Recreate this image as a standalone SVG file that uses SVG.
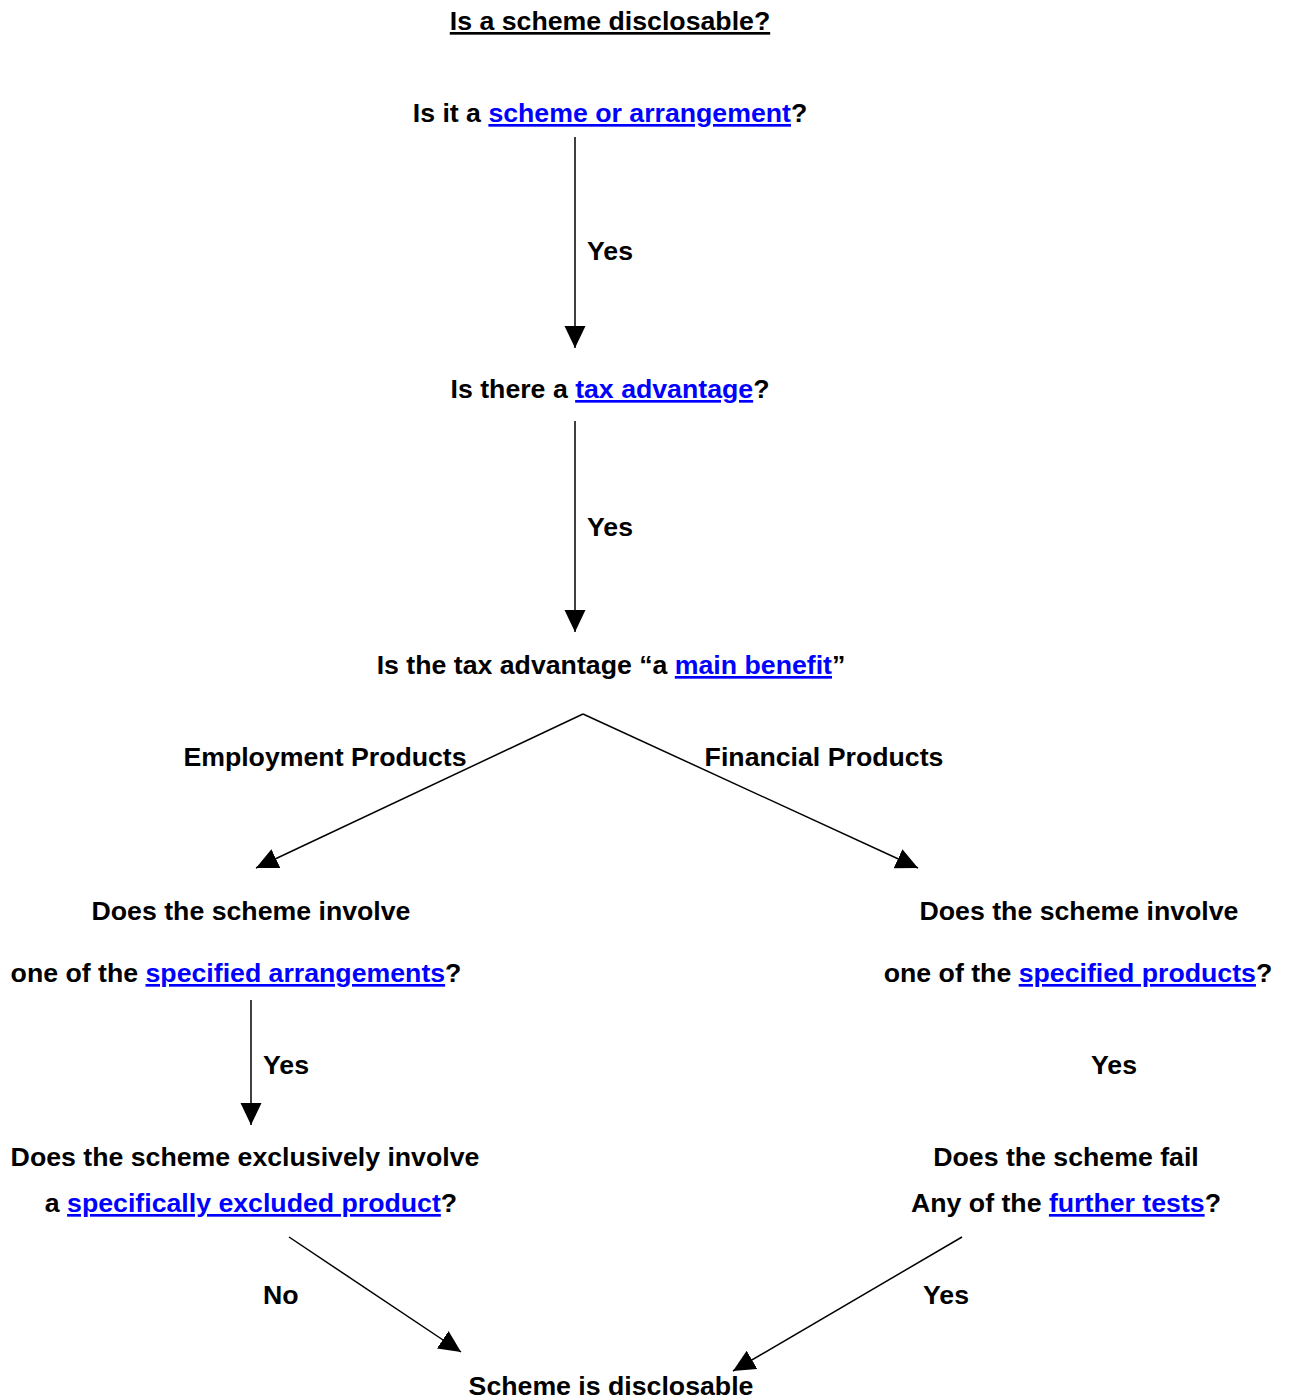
<svg xmlns="http://www.w3.org/2000/svg" width="1289" height="1400" viewBox="0 0 1289 1400">
<style>
text{font-family:"Liberation Sans",Arial,sans-serif;font-weight:bold;font-size:26.7px;fill:#000;text-anchor:middle}
.lk{fill:#0000ff;text-decoration:underline}
.ul{text-decoration:underline}
.st{text-anchor:start}
.c{stroke:#000;stroke-width:1.5;fill:none;marker-end:url(#ah)}
</style>
<defs>
<marker id="ah" markerUnits="userSpaceOnUse" markerWidth="24" markerHeight="22" refX="22" refY="10.5" orient="auto" viewBox="0 0 24 22">
<path d="M0,0 L22,10.5 L0,21 z" fill="#000"/>
</marker>
</defs>
<rect width="1289" height="1400" fill="#fff"/>
<g id="connectors">
<line class="c" x1="575" y1="137" x2="575" y2="348"/>
<line class="c" x1="575" y1="421" x2="575" y2="632"/>
<line class="c" x1="583" y1="714" x2="256" y2="868"/>
<line class="c" x1="583" y1="714" x2="918" y2="868"/>
<line class="c" x1="251" y1="1000" x2="251" y2="1125"/>
<line class="c" x1="289" y1="1237" x2="461" y2="1352"/>
<line class="c" x1="962" y1="1237" x2="733" y2="1371"/>
</g>
<g id="labels">
<text x="587" y="260" class="st">Yes</text>
<text x="587" y="536" class="st">Yes</text>
<text x="325" y="766">Employment Products</text>
<text x="824" y="766">Financial Products</text>
<text x="263" y="1074" class="st">Yes</text>
<text x="1091" y="1074" class="st">Yes</text>
<text x="263" y="1304" class="st">No</text>
<text x="923" y="1304" class="st">Yes</text>
</g>
<g id="title"><text x="610" y="30" class="ul">Is a scheme disclosable?</text></g>
<g id="n1"><text x="610" y="122">Is it a <tspan class="lk">scheme or arrangement</tspan>?</text></g>
<g id="n2"><text x="610" y="398">Is there a <tspan class="lk">tax advantage</tspan>?</text></g>
<g id="n3"><text x="611" y="674">Is the tax advantage “a <tspan class="lk">main benefit</tspan>”</text></g>
<g id="n4"><text x="251" y="920">Does the scheme involve</text><text x="236" y="982">one of the <tspan class="lk">specified arrangements</tspan>?</text></g>
<g id="n5"><text x="1079" y="920">Does the scheme involve</text><text x="1078" y="982">one of the <tspan class="lk">specified products</tspan>?</text></g>
<g id="n6"><text x="245" y="1166">Does the scheme exclusively involve</text><text x="251" y="1212">a <tspan class="lk">specifically excluded product</tspan>?</text></g>
<g id="n7"><text x="1066" y="1166">Does the scheme fail</text><text x="1066" y="1212">Any of the <tspan class="lk">further tests</tspan>?</text></g>
<g id="n8"><text x="611" y="1395">Scheme is disclosable</text></g>
</svg>
